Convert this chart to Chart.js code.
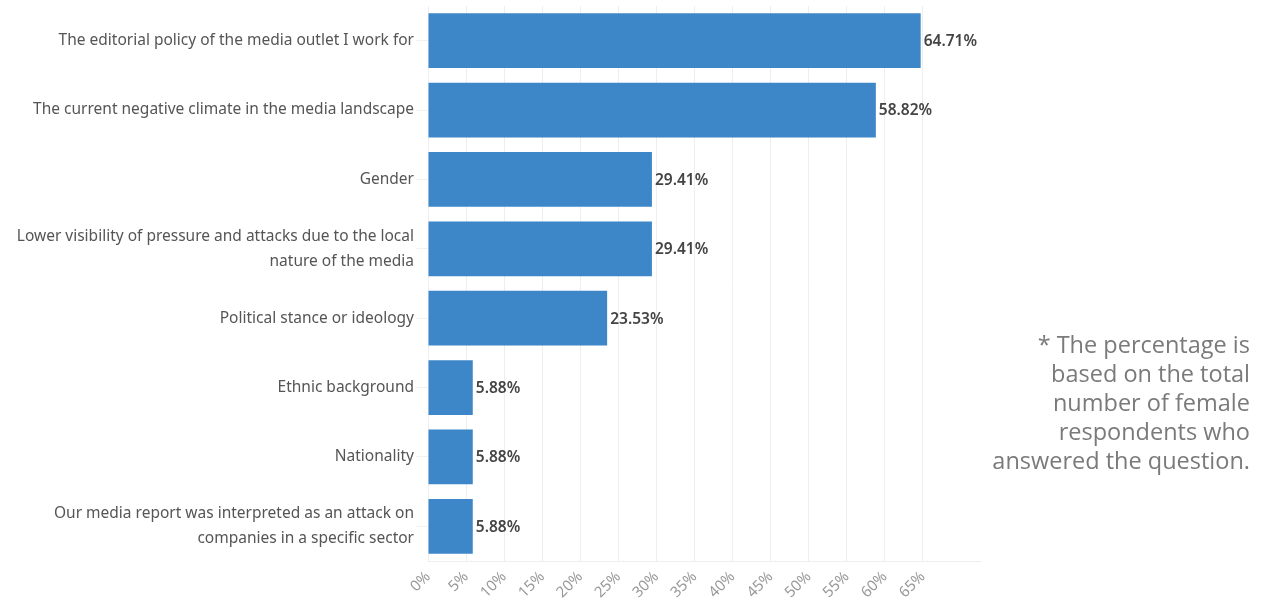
<!DOCTYPE html>
<html>
<head>
<meta charset="utf-8">
<script src="https://cdn.jsdelivr.net/npm/chart.js@4/dist/chart.umd.min.js"></script>
<style>
  html, body { margin: 0; padding: 0; background: #fff; }
  #wrap { position: relative; width: 1262px; height: 602px; }
  #note {
    position: absolute; right: 12px; top: 330px; width: 290px;
    text-align: right; font-family: "Open Sans", sans-serif; font-size: 23.5px;
    line-height: 29px; color: #7a7a7a;
  }
</style>
</head>
<body>
<div id="wrap">
  <canvas id="chart" width="1262" height="602"></canvas>
  <div id="note">* The percentage is<br>based on the total<br>number of female<br>respondents who<br>answered the question.</div>
</div>
<script>
// data
const categories = [
  'The editorial policy of the media outlet I work for',
  'The current negative climate in the media landscape',
  'Gender',
  ['Lower visibility of pressure and attacks due to the local', 'nature of the media'],
  'Political stance or ideology',
  'Ethnic background',
  'Nationality',
  ['Our media report was interpreted as an attack on', 'companies in a specific sector']
];
const percentValues = [64.71, 58.82, 29.41, 29.41, 23.53, 5.88, 5.88, 5.88];
const xTickValues = [0, 5, 10, 15, 20, 25, 30, 35, 40, 45, 50, 55, 60, 65];

// labels at the end of each bar
const barLabels = {
  id: 'barLabels',
  afterDatasetsDraw(chart) {
    const ctx = chart.ctx;
    const meta = chart.getDatasetMeta(0);
    ctx.save();
    ctx.font = '600 15.5px "Noto Sans", sans-serif';
    ctx.fillStyle = '#444';
    ctx.textBaseline = 'middle';
    meta.data.forEach((bar, i) => {
      ctx.fillText(percentValues[i].toFixed(2) + '%', bar.x + 3, bar.y + 1);
    });
    ctx.restore();
  }
};

new Chart(document.getElementById('chart'), {
  type: 'bar',
  data: {
    labels: categories,
    datasets: [{
      data: percentValues,
      backgroundColor: '#3d87c9',
      categoryPercentage: 1,
      barPercentage: 0.79
    }]
  },
  options: {
    indexAxis: 'y',
    responsive: false,
    animation: false,
    layout: { padding: { top: 6, right: 282, left: 0, bottom: 0 } },
    plugins: { legend: { display: false }, tooltip: { enabled: false } },
    scales: {
      x: {
        min: 0, max: 72.5,
        afterBuildTicks: (scale) => { scale.ticks = xTickValues.map(v => ({ value: v })); },
        afterFit: (scale) => { scale.height = 41; },
        grid: { color: '#eeeeee', drawTicks: false },
        border: { display: true, color: '#eeeeee' },
        ticks: {
          minRotation: 45, maxRotation: 45, padding: 7,
          color: '#999', font: { family: '"Noto Sans", sans-serif', size: 15 },
          callback: (v) => v + '%'
        }
      },
      y: {
        afterFit: (scale) => {
          scale.width = 428;
          scale.paddingTop = 0;
          scale.paddingBottom = 0;
        },
        grid: { drawOnChartArea: false, offset: false, color: '#f2f2f2', tickLength: 12 },
        border: { display: false },
        ticks: {
          padding: 2,
          color: '#555', font: { family: '"Noto Sans", sans-serif', size: 15.5, lineHeight: 1.6 }
        }
      }
    }
  },
  plugins: [barLabels]
});
</script>
</body>
</html>
